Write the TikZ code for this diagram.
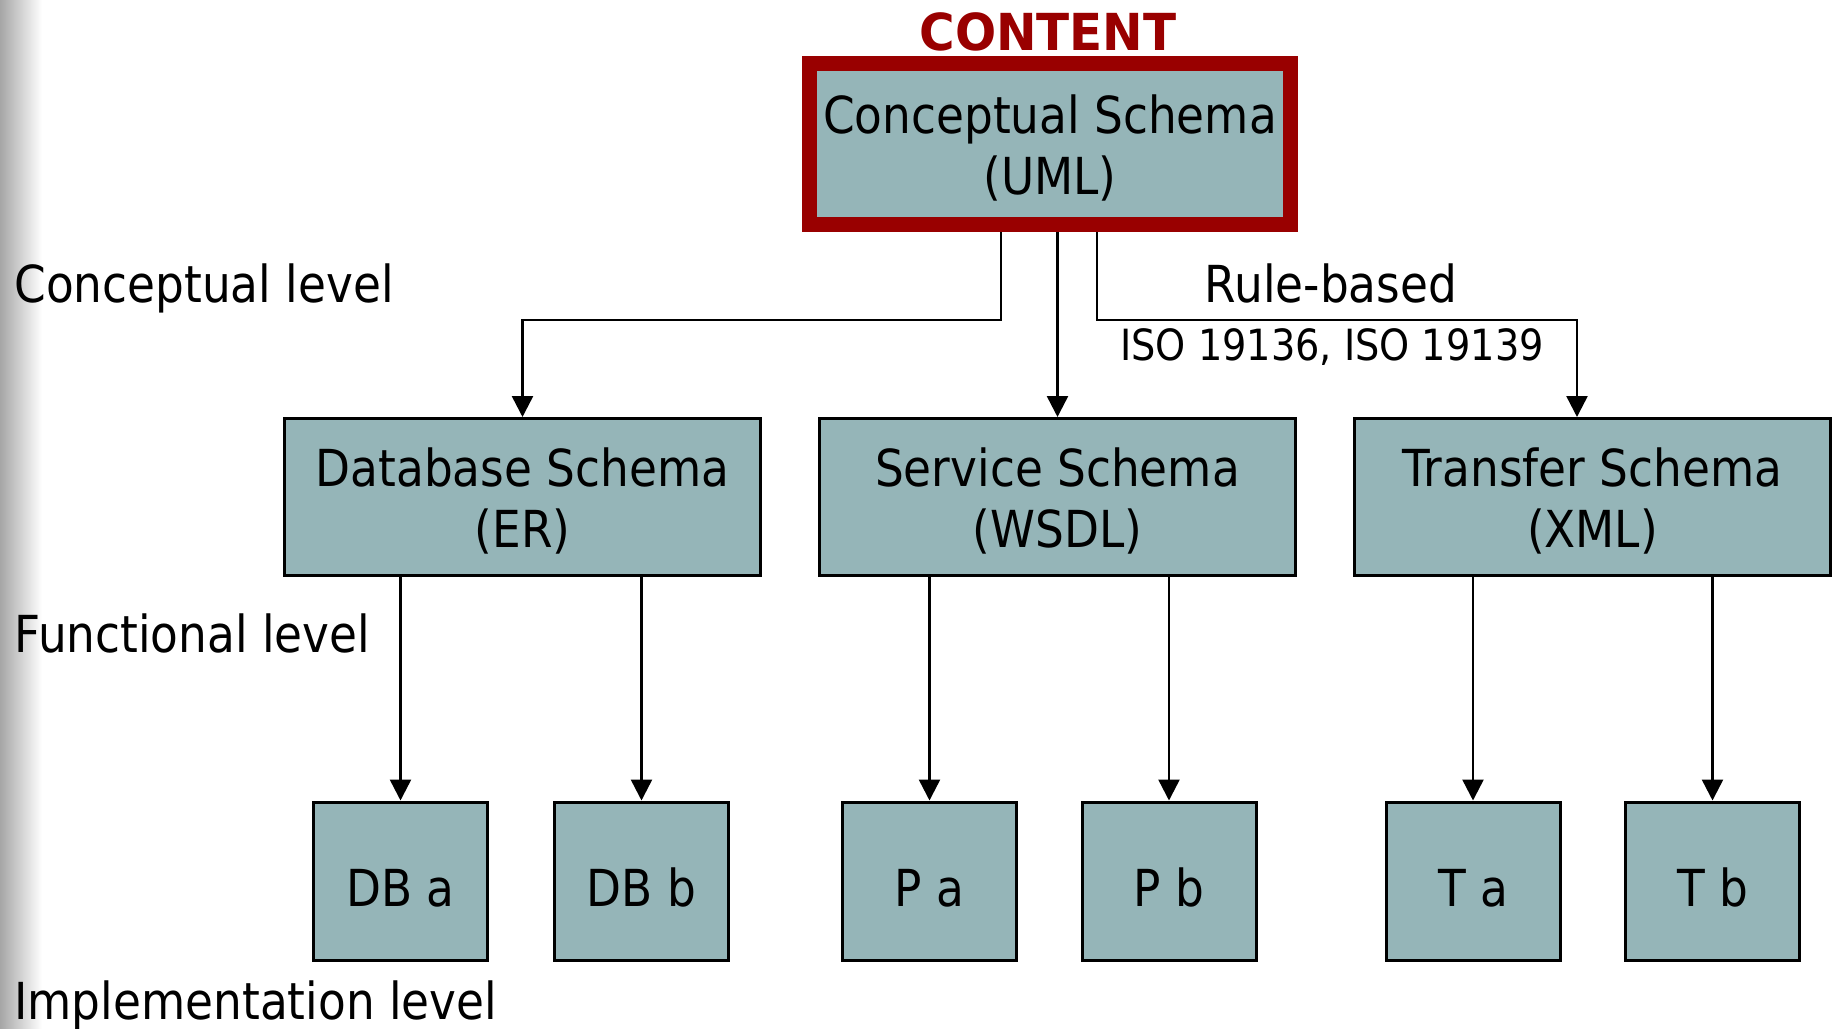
\documentclass[tikz,border=0pt]{standalone}
\usepackage{fontspec}
\setmainfont[FakeStretch=0.89, BoldFeatures={FakeStretch=0.95}]{DejaVu Sans}
\usetikzlibrary{arrows.meta}
\definecolor{schemafill}{HTML}{95B5B8}
\definecolor{contentred}{HTML}{990000}
\newcommand{\bigtxt}{\fontsize{25.5pt}{30.5pt}\selectfont}
\tikzset{
  box/.style={draw=black, fill=schemafill, line width=1.5pt, align=center, inner sep=0pt,
    text height=54pt, minimum width=238pt, minimum height=78.5pt, font=\bigtxt},
  topbox/.style={box, draw=contentred, line width=7.5pt, minimum width=240.5pt, minimum height=80.5pt},
  leaf/.style={box, text height=25pt, text depth=0pt, minimum width=87pt, minimum height=79pt},
  arr/.style={line width=1.25pt, -{Triangle[length=10.5pt, width=10.5pt]}},
  lvl/.style={anchor=base west, inner sep=0pt, font=\bigtxt}
}
\begin{document}
\begin{tikzpicture}[x=0.5pt, y=-0.5pt]
    \useasboundingbox (0,0) rectangle (1833,1029);
    \shade[left color=gray!70, right color=white] (0,0) rectangle (42,1029);

    \node[topbox] (cs) at (1050,144) {Conceptual Schema\\(UML)};
    \node[anchor=base, inner sep=0pt, text=contentred, font=\bigtxt\bfseries] (ct) at (1048,50) {CONTENT};

    \node[box] (db) at (522.5,497) {Database Schema\\(ER)};
    \node[box] (sv) at (1057.5,497) {Service Schema\\(WSDL)};
    \node[box] (tr) at (1592.5,497) {Transfer Schema\\(XML)};

    \node[leaf] (dba) at (400.5,881) {DB a};
    \node[leaf] (dbb) at (641.5,881) {DB b};
    \node[leaf] (pa) at (929.5,881) {P a};
    \node[leaf] (pb) at (1169,881) {P b};
    \node[leaf] (ta) at (1473,881) {T a};
    \node[leaf] (tb) at (1712.5,881) {T b};

    \coordinate (l1) at (1001,320);
    \coordinate (r1) at (1097,320);
    \coordinate (r2) at (1577,320);

    \draw[arr] (cs.south -| l1) -- (l1) -| (db.north);
    \draw[arr] (cs.south -| sv.north) -- (sv.north);
    \draw[arr] (cs.south -| r1) -- (r1) -- (r2) -- (r2 |- tr.north);

    \draw[arr] (db.south -| dba.north) -- (dba.north);
    \draw[arr] (db.south -| dbb.north) -- (dbb.north);
    \draw[arr] (sv.south -| pa.north) -- (pa.north);
    \draw[arr] (sv.south -| pb.north) -- (pb.north);
    \draw[arr] (tr.south -| ta.north) -- (ta.north);
    \draw[arr] (tr.south -| tb.north) -- (tb.north);

    \node[anchor=base, inner sep=0pt, font=\bigtxt] (rb) at (1331,302) {Rule-based};
    \node[anchor=base, inner sep=0pt, font=\fontsize{21.5pt}{25pt}\selectfont] (iso) at (1332,360) {ISO 19136, ISO 19139};

    \node[lvl] (lc) at (14,302) {Conceptual level};
    \node[lvl] (lf) at (14,652) {Functional level};
    \node[lvl] (li) at (14,1019) {Implementation level};
\end{tikzpicture}
\end{document}
